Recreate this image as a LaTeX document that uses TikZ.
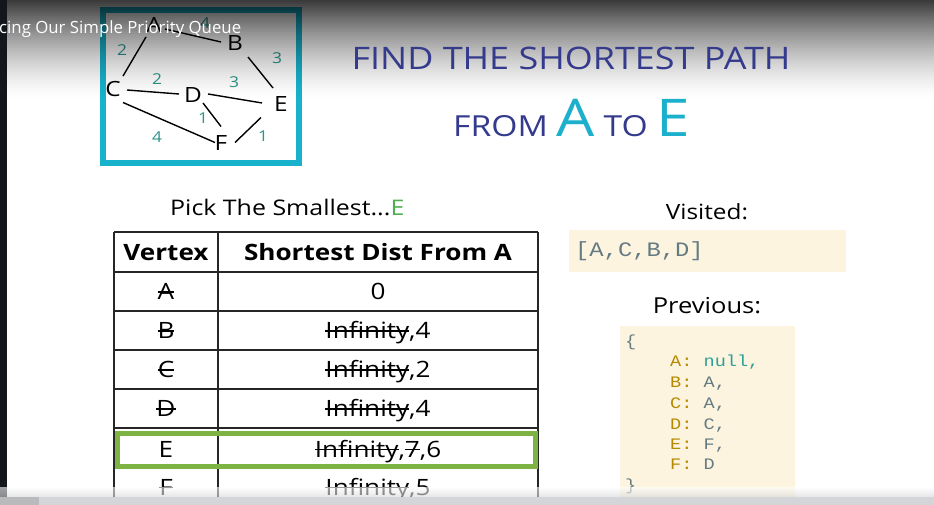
\documentclass[tikz,border=0pt]{standalone}
\usepackage{fontspec}
\setmainfont{Open Sans}[FakeStretch=1.16]
\newfontfamily\codefont{Liberation Mono}[FakeStretch=1.16]
\newfontfamily\ytfont{Open Sans}
\usetikzlibrary{calc}
\definecolor{titleblue}{RGB}{52,58,140}
\definecolor{accent}{RGB}{28,176,204}
\definecolor{boxteal}{RGB}{24,178,204}
\definecolor{wtcol}{RGB}{45,150,140}
\definecolor{pickgreen}{RGB}{76,175,80}
\definecolor{rowgreen}{RGB}{124,179,66}
\definecolor{beige}{RGB}{252,244,222}
\definecolor{solbase}{RGB}{101,123,131}
\definecolor{solyellow}{RGB}{181,137,0}
\definecolor{solcyan}{RGB}{42,161,152}
\definecolor{leftbar}{RGB}{19,22,27}
\definecolor{bargray}{RGB}{212,213,216}
\definecolor{progress}{RGB}{185,186,188}
\newcommand\strk[1]{\setbox0\hbox{#1}\rlap{\rule[0.3em]{\wd0}{0.075em}}\box0}
\newcommand\fs[1]{\fontsize{#1}{#1}\selectfont}
\tikzset{
  gv/.style={inner sep=0pt, font=\fs{21}},
  wt/.style={inner sep=0pt, font=\fs{15}, text=wtcol},
  gedge/.style={line width=1.4pt},
  tline/.style={line width=1.3pt, black!85},
  cell/.style={anchor=base, font=\fs{22.5}, inner sep=0pt},
  head/.style={anchor=base, font=\fs{22.5}\bfseries, inner sep=0pt},
  code/.style={anchor=base west, font=\codefont\fs{16}, inner sep=0pt, text=solbase},
}
\begin{document}
\begin{tikzpicture}[x=1pt,y=-1pt]
\useasboundingbox (0,0) rectangle (934,505);
\fill[white] (0,0) rectangle (934,505);

% graph box
\draw[boxteal, line width=5.5pt] (103,10) rectangle (299,163);
\node[gv] (A) at (154,25) {A};
\node[gv] (B) at (235,43) {B};
\node[gv] (C) at (113,89.5) {C};
\node[gv] (D) at (193,95) {D};
\node[gv] (E) at (281,104) {E};
\node[gv] (F) at (221,143.5) {F};
\draw[gedge] ($(A)+(11,4)$) -- ($(B)+(-14,-1)$);
\draw[gedge] ($(A)+(-8,12)$) -- ($(C)+(10,-13.5)$);
\draw[gedge] ($(B)+(13,14)$) -- ($(E)+(-8,-16)$);
\draw[gedge] ($(C)+(14,0.5)$) -- ($(D)+(-14,-1)$);
\draw[gedge] ($(D)+(15,-1)$) -- ($(E)+(-19,-1)$);
\draw[gedge] ($(D)+(10,8)$) -- ($(F)+(0,-17)$);
\draw[gedge] ($(C)+(10,13)$) -- ($(F)+(-6,-1)$);
\draw[gedge] ($(E)+(-20,13.5)$) -- ($(F)+(14,-1)$);
\node[wt] (wAB) at (205,23) {4};
\node[wt] (wAC) at (122,50) {2};
\node[wt] (wBE) at (277,58) {3};
\node[wt] (wCD) at (157,79) {2};
\node[wt] (wDE) at (234,82) {3};
\node[wt] (wDF) at (203,118) {1};
\node[wt] (wCF) at (157,137) {4};
\node[wt] (wEF) at (263,136) {1};

% top gradient overlay
\foreach \i in {0,...,49}{
  \pgfmathsetmacro\op{0.78*(1-(2*\i+1)/100)^1.5}
  \fill[black, opacity=\op] (0,2*\i) rectangle (934,2*\i+2);
}

% slide title
\node[anchor=base, inner sep=0pt, text=titleblue, font=\fs{31}] (t1) at (571,70) {FIND THE SHORTEST PATH};
\node[anchor=base west, inner sep=0pt, text=titleblue, font=\fs{29}] (t2) at (453,137)
  {FROM {\color{accent}\fs{52}A} TO {\color{accent}\fs{52}E}};

% pick text
\node[anchor=base west, inner sep=0pt, font=\fs{21.5}] (pick) at (170,215) {Pick The Smallest...{\color{pickgreen}E}};

% table
\draw[tline] (114,232) -- (538,232);
\foreach \yy in {272,311,350,389,428,467} \draw[tline] (114,\yy) -- (538,\yy);
\foreach \xx in {114,218,538} \draw[tline] (\xx,232) -- (\xx,505);
\node[head] (h1) at (166,260) {Vertex};
\node[head] (h2) at (378,260) {Shortest Dist From A};
\node[cell] (vA) at (166,299.5) {\strk{A}};
\node[cell] (dA) at (378,299.5) {0};
\node[cell] (vB) at (166,338.5) {\strk{B}};
\node[cell] (dB) at (378,338.5) {\strk{Infinity},4};
\node[cell] (vC) at (166,377.5) {\strk{C}};
\node[cell] (dC) at (378,377.5) {\strk{Infinity},2};
\node[cell] (vD) at (166,416.5) {\strk{D}};
\node[cell] (dD) at (378,416.5) {\strk{Infinity},4};
\node[cell] (vE) at (166,457) {E};
\node[cell] (dE) at (378,457) {\strk{Infinity},\strk{7},6};
\node[cell] (vF) at (166,495) {\strk{F}};
\node[cell] (dF) at (378,495) {\strk{Infinity},5};
\draw[rowgreen, line width=5pt] (117,433) rectangle (535,466.5);

% visited
\node[anchor=base, inner sep=0pt, font=\fs{21}] (vis) at (707,219) {Visited:};
\fill[beige] (569,230) rectangle (846,272);
\node[code, font=\codefont\fs{20.5}] (visl) at (575,256) {[A,C,B,D]};

% previous
\node[anchor=base, inner sep=0pt, font=\fs{22}] (prev) at (707,313) {Previous:};
\fill[beige] (620,326) rectangle (795,505);
\node[code] (p0) at (625,346) {\{};
\node[code] (pA) at (670,366) {{\color{solyellow}A:} {\color{solcyan}null,}};
\node[code] (pB) at (670,387) {{\color{solyellow}B:} A,};
\node[code] (pC) at (670,408) {{\color{solyellow}C:} A,};
\node[code] (pD) at (670,429) {{\color{solyellow}D:} C,};
\node[code] (pE) at (670,449) {{\color{solyellow}E:} F,};
\node[code] (pF) at (670,469) {{\color{solyellow}F:} D};
\node[code] (p1) at (625,490) {\}};

% video chrome
\fill[leftbar] (0,0) rectangle (7,497);
\shade[top color=white, bottom color=bargray, opacity=0.6] (0,487) rectangle (934,497);
\fill[bargray] (0,497) rectangle (934,505);
\fill[progress] (0,497) rectangle (39,505);

% video title
\node[anchor=base west, inner sep=0pt, text=white, font=\ytfont\fs{16.8}] (vt) at (-1,34) {cing Our Simple Priority Queue};
\end{tikzpicture}
\end{document}
